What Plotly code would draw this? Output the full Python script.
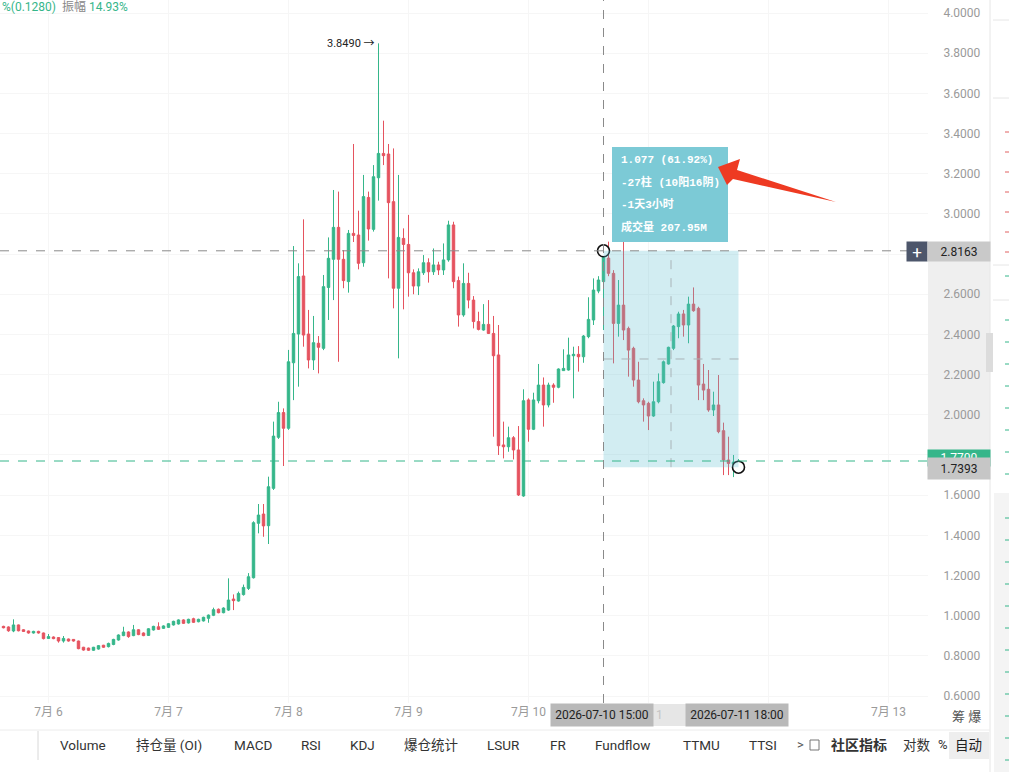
import plotly.graph_objects as go
import pandas as pd

# ---------------- data (hourly candles) ----------------
start_time = "2026-07-05 15:00"
opens = [0.947,0.944,0.924,0.954,0.930,0.924,0.914,0.922,0.914,0.887,0.894,0.891,0.874,0.884,0.882,0.874,0.843,0.839,0.828,0.834,
         0.853,0.846,0.857,0.879,0.901,0.919,0.901,0.930,0.914,0.902,0.929,0.945,0.937,0.942,0.954,0.959,0.979,0.964,0.985,0.970,
         0.974,0.987,1.002,1.032,1.015,1.028,1.083,1.073,1.105,1.136,1.189,1.460,1.506,1.448,1.634,1.888,2.011,1.933,2.259,2.402,
         2.691,2.402,2.273,2.356,2.331,2.634,2.774,2.933,2.774,2.663,2.903,2.895,2.757,3.082,2.923,3.180,3.301,3.298,3.061,2.630,
         2.878,2.848,2.707,2.641,2.707,2.757,2.712,2.746,2.721,2.771,2.945,2.668,2.497,2.654,2.571,2.464,2.422,2.450,2.405,2.298,
         1.850,1.841,1.886,1.825,1.596,2.074,1.928,2.070,2.148,2.049,2.148,2.137,2.220,2.223,2.294,2.301,2.289,2.389,2.472,2.616,
         2.663,2.780,2.704,2.455,2.546,2.430,2.331,2.173,2.070,2.057,1.994,2.065,2.160,2.253,2.331,2.439,2.502,2.447,2.551,2.530,
         2.153,2.127,2.024,2.049,1.921,1.775,1.755,1.745]
highs = [0.950,0.947,0.982,0.956,0.933,0.926,0.925,0.925,0.916,0.909,0.897,0.893,0.899,0.886,0.884,0.876,0.845,0.841,0.845,0.854,
         0.855,0.866,0.885,0.907,0.945,0.922,0.954,0.933,0.917,0.938,0.950,0.967,0.952,0.963,0.975,0.982,0.982,0.985,0.990,0.985,
         0.995,1.006,1.040,1.036,1.042,1.186,1.106,1.120,1.155,1.212,1.470,1.556,1.556,1.692,1.966,2.065,2.032,2.323,2.840,2.754,
         2.973,2.522,2.492,2.392,2.696,2.883,3.119,3.111,2.820,2.920,3.348,3.016,3.194,3.111,3.243,3.849,3.464,3.348,3.326,3.194,
         2.928,2.995,2.724,2.729,2.795,2.779,2.828,2.762,2.853,2.966,2.961,2.688,2.754,2.707,2.591,2.513,2.551,2.571,2.492,2.447,
         1.966,1.941,1.894,1.944,2.127,2.082,2.110,2.253,2.186,2.160,2.157,2.231,2.326,2.384,2.339,2.342,2.397,2.585,2.679,2.690,
         2.8163,2.862,2.720,2.671,2.880,2.439,2.339,2.264,2.082,2.065,2.165,2.206,2.270,2.339,2.447,2.513,2.522,2.588,2.634,2.538,
         2.253,2.223,2.115,2.198,1.961,1.891,1.800,1.780]
lows = [0.937,0.920,0.918,0.922,0.919,0.911,0.911,0.911,0.882,0.884,0.883,0.866,0.866,0.871,0.871,0.833,0.826,0.825,0.825,0.831,
        0.840,0.842,0.853,0.876,0.898,0.890,0.898,0.903,0.898,0.899,0.926,0.929,0.934,0.939,0.951,0.956,0.959,0.961,0.964,0.967,
        0.971,0.965,0.998,1.012,1.012,1.024,1.028,1.070,1.100,1.128,1.185,1.410,1.393,1.357,1.626,1.880,1.745,1.925,2.073,2.140,
        2.339,2.231,2.223,2.206,2.322,2.472,2.571,2.264,2.630,2.608,2.860,2.724,2.737,2.867,2.912,3.066,3.243,2.679,2.530,2.281,
        2.525,2.588,2.600,2.596,2.696,2.658,2.696,2.696,2.696,2.762,2.630,2.439,2.488,2.530,2.430,2.420,2.419,2.402,1.891,1.800,
        1.783,1.816,1.778,1.596,1.592,1.866,1.924,2.057,1.941,2.037,2.060,2.132,2.219,2.220,2.082,2.215,2.259,2.381,2.447,2.605,
        2.422,2.690,2.256,2.389,2.372,2.190,2.140,2.057,1.966,1.924,1.990,2.057,2.155,2.250,2.322,2.381,2.389,2.356,2.513,2.073,
        2.073,2.015,1.994,1.908,1.700,1.700,1.690,1.739]
closes = [0.940,0.925,0.954,0.925,0.922,0.914,0.922,0.914,0.886,0.896,0.886,0.874,0.887,0.874,0.874,0.836,0.829,0.828,0.843,0.851,
          0.843,0.862,0.882,0.904,0.919,0.896,0.930,0.906,0.901,0.935,0.947,0.932,0.949,0.960,0.972,0.979,0.962,0.982,0.967,0.982,
          0.992,1.003,1.030,1.015,1.038,1.078,1.075,1.111,1.141,1.194,1.463,1.501,1.447,1.642,1.894,2.011,1.933,2.264,2.405,2.688,
          2.397,2.273,2.359,2.336,2.638,2.779,2.933,2.774,2.668,2.903,2.893,2.754,3.086,2.925,3.185,3.301,3.290,3.056,2.630,2.883,
          2.848,2.707,2.641,2.712,2.757,2.712,2.746,2.721,2.771,2.945,2.663,2.497,2.654,2.571,2.464,2.425,2.450,2.405,2.294,1.846,
          1.841,1.886,1.825,1.601,2.070,1.928,2.074,2.148,2.049,2.148,2.137,2.228,2.231,2.298,2.301,2.289,2.392,2.475,2.621,2.671,
          2.795,2.704,2.455,2.546,2.422,2.322,2.173,2.065,2.049,1.994,2.065,2.165,2.264,2.336,2.442,2.502,2.447,2.551,2.518,2.148,
          2.123,2.024,2.049,1.916,1.775,1.758,1.765,1.770]

day_ticks = ["2026-07-06", "2026-07-07", "2026-07-08", "2026-07-09", "2026-07-10", "2026-07-11", "2026-07-12", "2026-07-13"]
# labels for 7/11 and 7/12 are covered by the crosshair time boxes in the reference
day_labels = ["7月 6", "7月 7", "7月 8", "7月 9", "7月 10", "", "", "7月 13"]
price_ticks = [0.6, 0.8, 1.0, 1.2, 1.4, 1.6, 1.8, 2.0, 2.2, 2.4, 2.6, 2.8, 3.0, 3.2, 3.4, 3.6, 3.8, 4.0]
hidden_price_ticks = [1.8, 2.8]   # covered by the price boxes on the axis

measure_start = "2026-07-10 15:00"
measure_end = "2026-07-11 18:00"
measure_high = 2.8163
measure_low = 1.7393
last_price = 1.7700
max_price = 3.8490
max_time = "2026-07-08 18:00"
toolbar_items = ["Volume", "持仓量 (OI)", "MACD", "RSI", "KDJ", "爆仓统计", "LSUR", "FR", "Fundflow", "TTMU", "TTSI"]
toolbar_x = [58, 134, 232, 299, 348, 402, 485, 548, 593, 681, 747]

# ---------------- styling ----------------
GREEN = "#35b68a"
RED = "#e5535f"
FONT = "Roboto, 'Noto Sans CJK SC', sans-serif"
PW, PH = 928, 703   # plot area in px


def fx(px):
    return px / PW


def fy(py):
    return 1 - py / PH


times = pd.date_range(start_time, periods=len(opens), freq="h")

fig = go.Figure()
fig.add_trace(go.Candlestick(
    x=times, open=opens, high=highs, low=lows, close=closes,
    increasing=dict(line=dict(color=GREEN, width=1), fillcolor=GREEN),
    decreasing=dict(line=dict(color=RED, width=1), fillcolor=RED),
    whiskerwidth=0, showlegend=False, hoverinfo="skip"))

shapes = []
annotations = []

# measure box
shapes.append(dict(type="rect", xref="x", yref="y", x0=measure_start, x1=measure_end,
                   y0=measure_low, y1=measure_high, fillcolor="rgba(95,192,208,0.28)", line=dict(width=0), layer="above"))
mid_t = pd.Timestamp(measure_start) + (pd.Timestamp(measure_end) - pd.Timestamp(measure_start)) / 2
shapes.append(dict(type="line", xref="x", yref="y", x0=mid_t, x1=mid_t, y0=measure_low, y1=measure_high,
                   line=dict(color="#a9b4b8", width=1, dash="dash"), layer="above"))
shapes.append(dict(type="line", xref="x", yref="y", x0=measure_start, x1=measure_end,
                   y0=(measure_low + measure_high) / 2, y1=(measure_low + measure_high) / 2,
                   line=dict(color="#a9b4b8", width=1, dash="dash"), layer="above"))
# crosshair lines
shapes.append(dict(type="line", xref="paper", yref="y", x0=0, x1=1, y0=measure_high, y1=measure_high,
                   line=dict(color="#8a8a8a", width=1, dash="dash"), layer="above"))
shapes.append(dict(type="line", xref="x", yref="paper", x0=measure_start, x1=measure_start, y0=0, y1=1,
                   line=dict(color="#8a8a8a", width=1, dash="dash"), layer="above"))
shapes.append(dict(type="line", xref="paper", yref="y", x0=0, x1=1, y0=last_price, y1=last_price,
                   line=dict(color=GREEN, width=1, dash="dash"), layer="above"))

# tooltip box
shapes.append(dict(type="rect", xref="paper", yref="paper", x0=fx(612), x1=fx(728), y0=fy(242), y1=fy(147),
                   fillcolor="#7ccad6", line=dict(width=0), layer="above"))
# red arrow
pts = [(718, 167), (740, 159), (737, 170), (836, 202), (733, 179), (727, 185)]
path = "M " + " L ".join(f"{fx(a):.5f},{fy(b):.5f}" for a, b in pts) + " Z"
shapes.append(dict(type="path", xref="paper", yref="paper", path=path, fillcolor="#ee3a22",
                   line=dict(width=0), layer="above"))

# right axis grey band
shapes.append(dict(type="rect", xref="paper", yref="paper", x0=fx(928), x1=fx(990), y0=fy(458), y1=fy(261),
                   fillcolor="#efefef", line=dict(width=0), layer="below"))
# side panel
shapes.append(dict(type="line", xref="paper", yref="paper", x0=fx(990), x1=fx(990), y0=fy(772), y1=fy(0),
                   line=dict(color="#e6e6e6", width=1)))
shapes.append(dict(type="rect", xref="paper", yref="paper", x0=fx(994), x1=fx(1009), y0=fy(772), y1=fy(493),
                   fillcolor="#f4f4f4", line=dict(width=0)))
shapes.append(dict(type="rect", xref="paper", yref="paper", x0=fx(986), x1=fx(993), y0=fy(372), y1=fy(333),
                   fillcolor="#dcdcdc", line=dict(width=0)))
for yy in [132, 152, 172, 192, 212, 232, 252]:
    shapes.append(dict(type="line", xref="paper", yref="paper", x0=fx(1005), x1=fx(1009), y0=fy(yy), y1=fy(yy),
                       line=dict(color="#e06060", width=1)))
for yy in [276, 320, 342, 364, 386, 408, 430, 452, 474, 518, 540, 562, 584, 606, 628, 650, 672, 694, 716, 738, 760]:
    shapes.append(dict(type="line", xref="paper", yref="paper", x0=fx(1005), x1=fx(1009), y0=fy(yy), y1=fy(yy),
                       line=dict(color="#35b68a", width=1)))
for yy in [20, 98, 265, 300]:
    shapes.append(dict(type="line", xref="paper", yref="paper", x0=fx(993), x1=fx(1009), y0=fy(yy), y1=fy(yy),
                       line=dict(color="#e6e6e6", width=1)))

# toolbar separators
shapes.append(dict(type="line", xref="paper", yref="paper", x0=0, x1=fx(990), y0=fy(730), y1=fy(730),
                   line=dict(color="#ececec", width=1)))
shapes.append(dict(type="line", xref="paper", yref="paper", x0=fx(38), x1=fx(38), y0=fy(760), y1=fy(731),
                   line=dict(color="#d8d8d8", width=1)))
shapes.append(dict(type="rect", xref="paper", yref="paper", x0=fx(810), x1=fx(819), y0=fy(750), y1=fy(740),
                   fillcolor="rgba(0,0,0,0)", line=dict(color="#777", width=1)))
shapes.append(dict(type="rect", xref="paper", yref="paper", x0=fx(949), x1=fx(989), y0=fy(759), y1=fy(732),
                   fillcolor="#eeeeee", line=dict(width=0), layer="below"))
# time-axis highlight band between the two labels
shapes.append(dict(type="rect", xref="paper", yref="paper", x0=fx(653), x1=fx(686), y0=fy(726), y1=fy(704),
                   fillcolor="#e6e6e6", line=dict(width=0), layer="above"))


def ann(px, py, text, size=12, color="#333", xanchor="left", **kw):
    annotations.append(dict(xref="paper", yref="paper", x=fx(px), y=fy(py), text=text, showarrow=False,
                            xanchor=xanchor, yanchor="middle", font=dict(family=kw.pop("family", FONT), size=size, color=color), **kw))


# tooltip text
MONO = "'Liberation Mono', 'DejaVu Sans Mono', 'Noto Sans CJK SC', monospace"
ann(619, 160, "<b>1.077 (61.92%)</b>", 11, "white", family=MONO)
ann(619, 182, "<b>-27柱 (10阳16阴)</b>", 11, "white", family=MONO)
ann(619, 204, "<b>-1天3小时</b>", 11, "white", family=MONO)
ann(619, 227, "<b>成交量 207.95M</b>", 11, "white", family=MONO)

# max label
annotations.append(dict(xref="x", yref="y", x=max_time, y=max_price, text="3.8490 →", showarrow=False,
                        xanchor="right", yanchor="middle", xshift=-2, font=dict(family=FONT, size=11, color="#222")))

# top-left info
ann(0, 7, '<span style="color:#35b68a">%(0.1280)</span>  <span style="color:#888">振幅</span> '
          '<span style="color:#35b68a">14.93%</span>', 12)

# axis price labels
ann(917, 251, "+", 17, "white", xanchor="center", bgcolor="#4d566b", width=18, height=17)
ann(959, 251, "2.8163", 12, "#222", xanchor="center", bgcolor="#c9c9c9", width=60, height=17)
ann(959, 458, "1.7700", 12, "white", xanchor="center", bgcolor=GREEN, width=60, height=14)
ann(959, 468, "1.7393", 12, "#222", xanchor="center", bgcolor="#c6c6c6", width=60, height=19)

# time labels
ann(602, 715, "2026-07-10 15:00", 12, "#222", xanchor="center", bgcolor="#b9b9b9", width=100, height=20)
ann(659, 715, "1", 12, "#c4c4c4", xanchor="center")
ann(737, 715, "2026-07-11 18:00", 12, "#222", xanchor="center", bgcolor="#b9b9b9", width=100, height=20)
ann(950, 716, "筹 爆", 13, "#555")

# toolbar
for t, x in zip(toolbar_items, toolbar_x):
    ann(x, 745, t, 13.5, "#333")
ann(795, 745, ">", 13, "#555")
ann(829, 745, "<b>社区指标</b>", 14, "#333")
ann(901, 745, "对数", 13.5, "#333")
ann(936, 745, "%", 13, "#333")
ann(953, 745, "自动", 13.5, "#222")

# circles at measure endpoints
fig.add_trace(go.Scatter(x=[measure_start, measure_end], y=[measure_high, measure_low], mode="markers",
                         marker=dict(size=12, color="white", line=dict(color="#111", width=1.6)),
                         showlegend=False, hoverinfo="skip"))

fig.update_layout(
    width=1009, height=772,
    margin=dict(l=0, r=81, t=0, b=69, pad=0),
    paper_bgcolor="white", plot_bgcolor="white",
    font=dict(family=FONT),
    showlegend=False,
    shapes=shapes, annotations=annotations,
    xaxis=dict(type="date", range=["2026-07-05 14:18", "2026-07-13 07:54"],
               tickvals=day_ticks, ticktext=day_labels, showgrid=True, gridcolor="#f6f6f6",
               zeroline=False, showline=False, ticks="", tickfont=dict(size=12, color="#9a9a9a"),
               rangeslider=dict(visible=False), fixedrange=True),
    yaxis=dict(side="right", range=[0.5655, 4.0647], tickvals=price_ticks,
               ticktext=["" if v in hidden_price_ticks else f"{v:.4f}" for v in price_ticks],
               showgrid=True, gridcolor="#f6f6f6",
               zeroline=False, showline=False, ticks="outside", ticklen=12, tickcolor="rgba(0,0,0,0)",
               tickfont=dict(size=12, color="#9a9a9a"), fixedrange=True),
)

fig.write_html("out.html")
